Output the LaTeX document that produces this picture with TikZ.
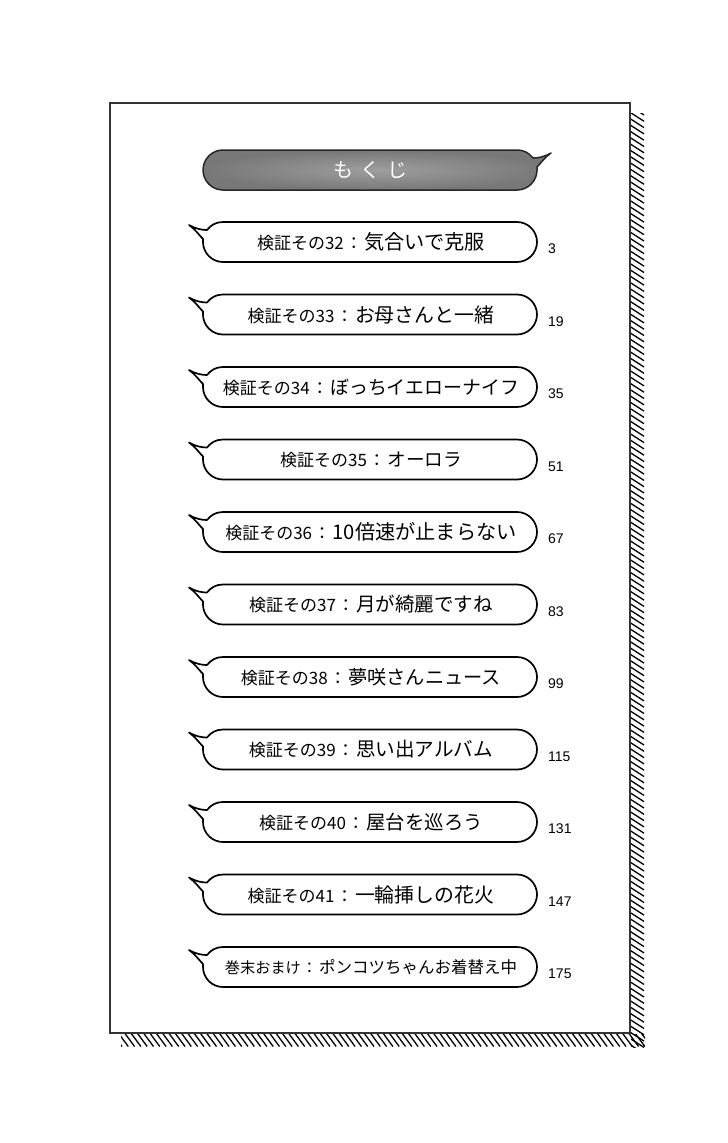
\documentclass[tikz,border=0pt]{standalone}
\usepackage{fontspec}
\newfontfamily\jp{Noto Sans CJK JP}
\newfontfamily\numfont{Liberation Sans}
\newcommand\bubblepath[1]{%
 (223,#1-20) -- (517,#1-20) .. controls (528,#1-20) and (537,#1-11) .. (537,#1)
 .. controls (537,#1+11) and (528,#1+20) .. (517,#1+20) -- (223,#1+20)
 .. controls (212,#1+20) and (203,#1+11) .. (203,#1)
 .. controls (203,#1-1) and (203,#1-2) .. (203,#1-3)
 .. controls (199,#1-7) and (195,#1-13) .. (189,#1-17)
 .. controls (196,#1-13) and (202,#1-12) .. (207,#1-12)
 .. controls (211,#1-17) and (216,#1-20) .. (223,#1-20) -- cycle}
\tikzset{
  frame/.style={draw=black!80, line width=1.4pt},
  hatch/.style={draw=black, line width=1.3pt},
  bubble/.style={draw=black, line width=1.7pt, fill=white, line join=round},
  titlebubble/.style={draw=black!85, line width=1.5pt, line join=round, inner color=black!38, outer color=black!53},
  itemtext/.style={inner sep=0pt, anchor=center},
  pagenum/.style={inner sep=0pt, anchor=west, font=\numfont\fontsize{14}{15}\selectfont},
  titletext/.style={inner sep=0pt, text=white, font=\jp\fontsize{20}{22}\selectfont}
}
\begin{document}
\begin{tikzpicture}[x=1pt,y=-1pt]
\useasboundingbox[fill=white] (0,0) rectangle (728,1143);
% hatching shadow
\begin{scope}
  \clip (631,113) rectangle (645,1047);
  \foreach \k in {0,...,150} \draw[hatch] (630,106+6.3*\k) -- ++(14,9);
\end{scope}
\begin{scope}
  \clip (121,1034) rectangle (645,1047);
  \foreach \k in {0,...,86} \draw[hatch] (112+6.3*\k,1033) -- ++(10,13.5);
\end{scope}
% page frame
\draw[frame] (110,103) rectangle (630,1033);
% title bubble
\begin{scope}[shift={(740,0)}, xscale=-1]
  \path[titlebubble] \bubblepath{170};
\end{scope}
\node[titletext] (title) at (370,170) {も\hspace{7pt}く\hspace{7pt}じ};
% items
\foreach \i/\a/\b/\p/\s in {0/検証その32/気合いで克服/3/20.2,
  1/検証その33/お母さんと一緒/19/19.9,
  2/検証その34/ぼっちイエローナイフ/35/18.9,
  3/検証その35/オーロラ/51/18.6,
  4/検証その36/10倍速が止まらない/67/20.2,
  5/検証その37/月が綺麗ですね/83/19.5,
  6/検証その38/夢咲さんニュース/99/19.2,
  7/検証その39/思い出アルバム/115/19.6,
  8/検証その40/屋台を巡ろう/131/19.4,
  9/検証その41/一輪挿しの花火/147/19.9}{
  \pgfmathsetmacro\cy{242+72.5*\i}
  \path[bubble] \bubblepath{\cy};
  \node[itemtext] (t\i) at (371,\cy) {{\jp\fontsize{17}{18}\selectfont \a\hspace{1.5pt}：\hspace{2pt}}{\jp\fontsize{\s}{22}\selectfont \b}};
  \node[pagenum] (p\i) at (548,\cy+7) {\p};
}
\pgfmathsetmacro\cy{242+72.5*10}
\path[bubble] \bubblepath{\cy};
\node[itemtext] (t10) at (371,\cy) {{\jp\fontsize{15.2}{18}\selectfont 巻末おまけ\hspace{1pt}：\hspace{2pt}}{\jp\fontsize{16.5}{20}\selectfont ポンコツちゃんお着替え中}};
\node[pagenum] (p10) at (548,\cy+7) {175};
\end{tikzpicture}
\end{document}
